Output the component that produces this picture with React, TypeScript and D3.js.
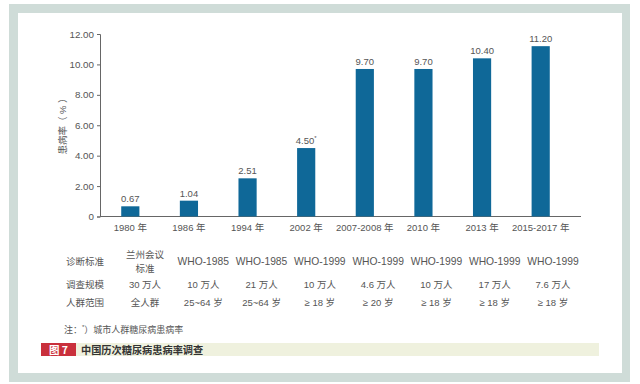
import * as d3 from 'd3';
import { useEffect, useRef } from 'react';

const years = ['1980 年', '1986 年', '1994 年', '2002 年', '2007-2008 年', '2010 年', '2013 年', '2015-2017 年'];
const rates = [0.67, 1.04, 2.51, 4.5, 9.7, 9.7, 10.4, 11.2];
const marks = ['', '', '', '*', '', '', '', ''];
const yTicks = [0, 2, 4, 6, 8, 10, 12];

const rowNames = ['诊断标准', '调查规模', '人群范围'];
const standards = ['兰州会议|标准', 'WHO-1985', 'WHO-1985', 'WHO-1999', 'WHO-1999', 'WHO-1999', 'WHO-1999', 'WHO-1999'];
const sizes = ['30 万人', '10 万人', '21 万人', '10 万人', '4.6 万人', '10 万人', '17 万人', '7.6 万人'];
const ages = ['全人群', '25~64 岁', '25~64 岁', '≥ 18 岁', '≥ 20 岁', '≥ 18 岁', '≥ 18 岁', '≥ 18 岁'];

const FONT = '"Liberation Sans", "Noto Sans CJK SC", sans-serif';
const CJK = '"Noto Sans CJK SC", sans-serif';
const TXT = '#555';

export default function App() {
    const svgRef = useRef<SVGSVGElement>(null);

    useEffect(() => {
        drawChart(svgRef.current!);
    }, []);

    return (
        <svg ref={svgRef} width={640} height={384}
            style={{ position: 'absolute', left: 0, top: 0, background: '#fff' }}></svg>
    );
}

function drawChart(el: SVGSVGElement) {
    const svg = d3.select(el);
    svg.selectAll('*').remove();

    // frame
    svg.append('rect').attr('x', 9).attr('y', 4).attr('width', 621).attr('height', 378).attr('fill', '#cfdcd8');
    svg.append('rect').attr('x', 18).attr('y', 13).attr('width', 604).attr('height', 360).attr('fill', '#fff');

    const x = d3.scaleBand().domain(years).range([101, 570]).paddingInner(0.69).paddingOuter(0.345);
    const y = d3.scaleLinear().domain([0, 12]).range([216.5, 34]);

    const txt = (s: any, size = 9.5) => s.attr('fill', TXT).attr('font-size', size)
        .attr('font-family', FONT);

    const yAxis = svg.append('g')
        .attr('transform', 'translate(100,0)')
        .call(d3.axisLeft(y).tickValues(yTicks).tickSize(3).tickPadding(3)
            .tickFormat(d => (+d === 0 ? '0' : d3.format('.2f')(+d))));
    yAxis.select('.domain').attr('stroke', '#666');
    yAxis.selectAll('line').attr('stroke', '#666');
    yAxis.selectAll('text').call(txt, 9.8);

    const xAxis = svg.append('g').attr('transform', 'translate(0,216.5)');
    xAxis.append('line').attr('x1', 100).attr('x2', 581).attr('stroke', '#666');
    xAxis.selectAll('text').data(years).enter().append('text')
        .attr('x', d => x(d)! + x.bandwidth() / 2)
        .attr('y', 14)
        .attr('text-anchor', 'middle')
        .call(txt)
        .text(d => d);

    svg.append('text')
        .attr('transform', 'translate(66,124) rotate(-90)')
        .attr('text-anchor', 'middle')
        .call(txt, 9.5)
        .text('患病率（ % ）');

    svg.selectAll('rect.bar').data(rates).enter().append('rect')
        .attr('class', 'bar')
        .attr('x', (d, i) => x(years[i])!)
        .attr('y', d => y(d))
        .attr('width', x.bandwidth())
        .attr('height', d => y(0) - y(d))
        .attr('fill', '#0f6898');

    const lbl = svg.selectAll('text.val').data(rates).enter().append('text')
        .attr('class', 'val')
        .attr('x', (d, i) => x(years[i])! + x.bandwidth() / 2)
        .attr('y', d => y(d) - 4)
        .attr('text-anchor', 'middle')
        .call(txt)
        .text(d => d.toFixed(2));
    lbl.append('tspan').attr('font-size', 6).attr('dy', -4).text((d, i) => marks[i]);

    // table under the chart
    const tx = d3.scalePoint().domain(years).range([145, 553]);
    const rowY = [265, 288, 306];
    const rows = [standards, sizes, ages];

    rowNames.forEach((name, r) => {
        svg.append('text').attr('x', 85).attr('y', rowY[r]).attr('text-anchor', 'middle').call(txt).text(name);
        rows[r].forEach((cell, i) => {
            const parts = cell.split('|');
            parts.forEach((p, k) => {
                svg.append('text')
                    .attr('x', tx(years[i])!)
                    .attr('y', rowY[r] + (k - (parts.length - 1) / 2) * 14.5)
                    .attr('text-anchor', 'middle')
                    .call(txt, p.startsWith('WHO') ? 10.3 : 9.5).text(p);
            });
        });
    });

    // footnote
    const note = svg.append('text').attr('x', 64).attr('y', 333).call(txt, 9);
    note.append('tspan').text('注：');
    note.append('tspan').attr('font-size', 6).attr('dy', -4).text('*');
    note.append('tspan').attr('dy', 4).text('）城市人群糖尿病患病率');

    // caption bar
    svg.append('rect').attr('x', 76).attr('y', 343).attr('width', 523).attr('height', 13).attr('fill', '#eff1de');
    svg.append('rect').attr('x', 41).attr('y', 343).attr('width', 35).attr('height', 13).attr('fill', '#c9303c');
    svg.append('text').attr('x', 58.5).attr('y', 353.5).attr('text-anchor', 'middle')
        .attr('fill', '#fff').attr('font-size', 10.5).attr('font-weight', 'bold').attr('font-family', CJK)
        .text('图 7');
    svg.append('text').attr('x', 81).attr('y', 354)
        .attr('fill', '#333').attr('font-size', 10.2).attr('font-weight', 'bold').attr('font-family', CJK)
        .text('中国历次糖尿病患病率调查');
}
